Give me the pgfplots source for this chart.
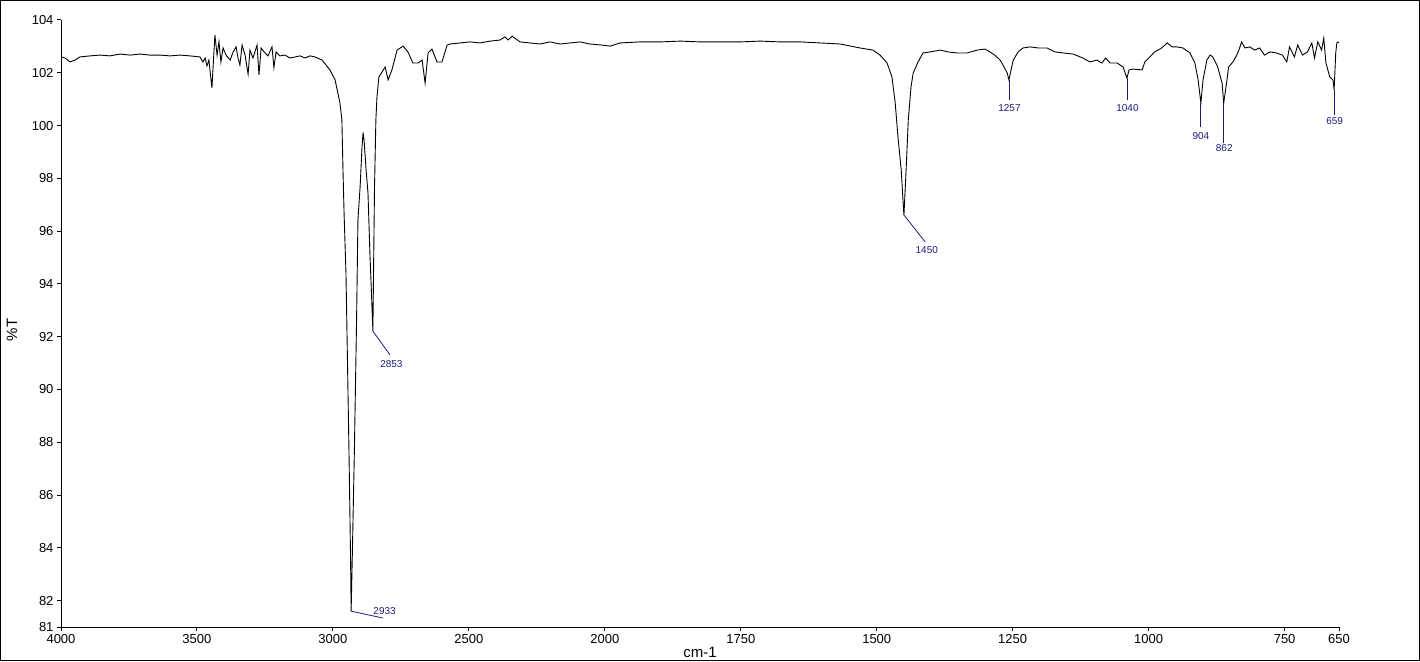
\documentclass[border=0pt]{standalone}
\usepackage{fontspec}
\setmainfont{Liberation Sans}
\usepackage{pgfplots}
\pgfplotsset{compat=1.18}
\definecolor{peak}{RGB}{28,28,120}
\begin{document}
\begin{tikzpicture}
\begin{axis}[
  name=ax, at={(61pt,34pt)}, anchor=south west,
  scale only axis, width=1278pt, height=607pt,
  xmin=-3000, xmax=-650, ymin=81, ymax=104,
  % wavenumbers run right to left; above 2000 cm-1 the scale is halved
  x filter/.expression={x>2000 ? -(2000+(x-2000)/2) : -x},
  axis x line=bottom, axis y line=left,
  axis line style={-, line width=1pt},
  tick align=outside, major tick length=4pt,
  tick style={black, line width=1pt},
  xtick={-3000,-2750,-2500,-2250,-2000,-1750,-1500,-1250,-1000,-750,-650},
  xticklabels={4000,3500,3000,2500,2000,1750,1500,1250,1000,750,650},
  ytick={81,82,84,86,88,90,92,94,96,98,100,102,104},
  ticklabel style={font=\fontsize{13}{13}\selectfont},
  /pgf/number format/assume math mode=true,
  clip=false,
]
\addplot[black, line width=0.9pt, mark=none] table {
x y
4000 102.60
3985 102.56
3967 102.41
3949 102.48
3930 102.60
3893 102.64
3857 102.67
3820 102.64
3783 102.71
3746 102.67
3709 102.71
3673 102.67
3636 102.67
3599 102.64
3562 102.67
3526 102.64
3489 102.60
3478 102.41
3470 102.56
3463 102.26
3456 102.48
3445 101.42
3434 103.43
3426 102.67
3419 103.17
3412 102.41
3404 102.94
3393 102.67
3378 102.48
3367 102.79
3356 102.98
3349 102.56
3342 102.29
3334 103.05
3323 102.67
3312 101.95
3305 102.86
3294 102.56
3279 103.05
3272 101.92
3264 102.94
3253 102.79
3239 102.64
3224 102.98
3217 102.20
3209 102.79
3195 102.64
3176 102.67
3158 102.56
3139 102.60
3121 102.64
3103 102.56
3084 102.64
3066 102.60
3040 102.48
3011 102.11
2992 101.73
2974 100.85
2967 100.21
2963 98.32
2959 96.69
2952 94.41
2949 92.63
2941 87.71
2935 83.54
2933 81.60
2929 83.54
2921 87.71
2913 92.63
2908 96.42
2900 97.67
2893 99.19
2889 99.74
2885 99.40
2878 98.32
2871 97.44
2864 95.17
2858 93.60
2853 92.21
2850 95.00
2847 97.67
2842 100.21
2838 101.08
2831 101.84
2819 102.03
2808 102.22
2797 101.73
2783 102.11
2764 102.86
2742 103.01
2724 102.79
2706 102.37
2687 102.37
2672 102.48
2661 101.61
2650 102.75
2636 102.90
2617 102.41
2599 102.41
2580 103.05
2569 103.09
2533 103.13
2496 103.17
2459 103.13
2422 103.20
2386 103.24
2367 103.36
2356 103.24
2341 103.39
2327 103.28
2312 103.17
2275 103.13
2238 103.09
2202 103.17
2165 103.09
2128 103.13
2091 103.17
2055 103.09
2011 103.05
1990 103.01
1972 103.13
1935 103.17
1898 103.17
1861 103.20
1825 103.17
1788 103.17
1751 103.17
1714 103.20
1678 103.17
1641 103.17
1604 103.13
1567 103.09
1531 102.94
1507 102.86
1494 102.67
1481 102.37
1472 101.84
1466 100.85
1461 99.57
1455 98.32
1451 96.91
1450 96.61
1446 98.32
1442 100.21
1437 101.46
1433 101.99
1424 102.41
1415 102.75
1402 102.79
1383 102.86
1369 102.79
1352 102.75
1334 102.75
1315 102.86
1301 102.90
1292 102.79
1283 102.67
1273 102.48
1266 102.22
1260 101.99
1257 101.73
1253 102.11
1249 102.48
1240 102.79
1231 102.94
1218 102.98
1203 102.94
1187 102.94
1172 102.79
1157 102.75
1139 102.71
1121 102.56
1108 102.41
1095 102.48
1086 102.37
1079 102.56
1071 102.37
1058 102.37
1047 102.22
1040 101.80
1036 102.11
1029 102.14
1012 102.11
1007 102.41
998 102.60
989 102.79
976 102.94
966 103.13
957 102.98
948 102.98
937 102.94
924 102.75
915 102.37
909 101.73
904 100.85
900 101.73
893 102.48
887 102.67
882 102.60
873 102.22
865 101.61
862 100.85
856 101.73
853 102.22
845 102.41
838 102.67
834 102.86
829 103.17
823 102.94
814 102.98
805 102.86
796 102.94
787 102.67
777 102.79
765 102.75
754 102.67
746 102.41
741 102.98
732 102.60
726 103.05
717 102.67
708 102.79
700 103.13
695 102.56
689 103.17
682 102.86
678 103.32
674 102.37
667 101.84
661 101.73
659 101.35
656 102.75
654 103.13
650 103.17
};
% leader lines of the peak labels
\addplot[peak, line width=0.8pt] coordinates {(2933,81.60) (2816,81.34)};
\addplot[peak, line width=0.8pt] coordinates {(2853,92.21) (2790,91.31)};
\addplot[peak, line width=0.8pt] coordinates {(1450,96.61) (1411,95.59)};
\addplot[peak, line width=0.8pt] coordinates {(1257,101.73) (1257,100.97)};
\addplot[peak, line width=0.8pt] coordinates {(1040,101.80) (1040,100.97)};
\addplot[peak, line width=0.8pt] coordinates {(904,100.85) (904,99.95)};
\addplot[peak, line width=0.8pt] coordinates {(862,100.85) (862,99.34)};
\addplot[peak, line width=0.8pt] coordinates {(659,101.35) (659,100.40)};
\addplot[draw=none, mark=none, nodes near coords, point meta=explicit symbolic,
  every node near coord/.append style={anchor=center, inner sep=0pt, text=peak,
    font=\fontsize{10}{10}\selectfont}] table[meta=lab] {
x y lab
2810 81.59 2933
2785 90.98 2853
1408 95.30 1450
1256 100.68 1257
1039 100.68 1040
904 99.60 904
861 99.15 862
658 100.17 659
};
\end{axis}
\node[rotate=90, font=\fontsize{15}{15}\selectfont] at (12pt,331pt) {\%T};
\node[font=\fontsize{15}{15}\selectfont] at (700pt,9pt) {cm-1};
\pgfresetboundingbox
\path[use as bounding box] (0pt,0pt) rectangle (1420pt,661pt);
\draw[line width=1pt] (0.5pt,0.5pt) rectangle (1419.5pt,660.5pt);
\end{tikzpicture}
\end{document}
